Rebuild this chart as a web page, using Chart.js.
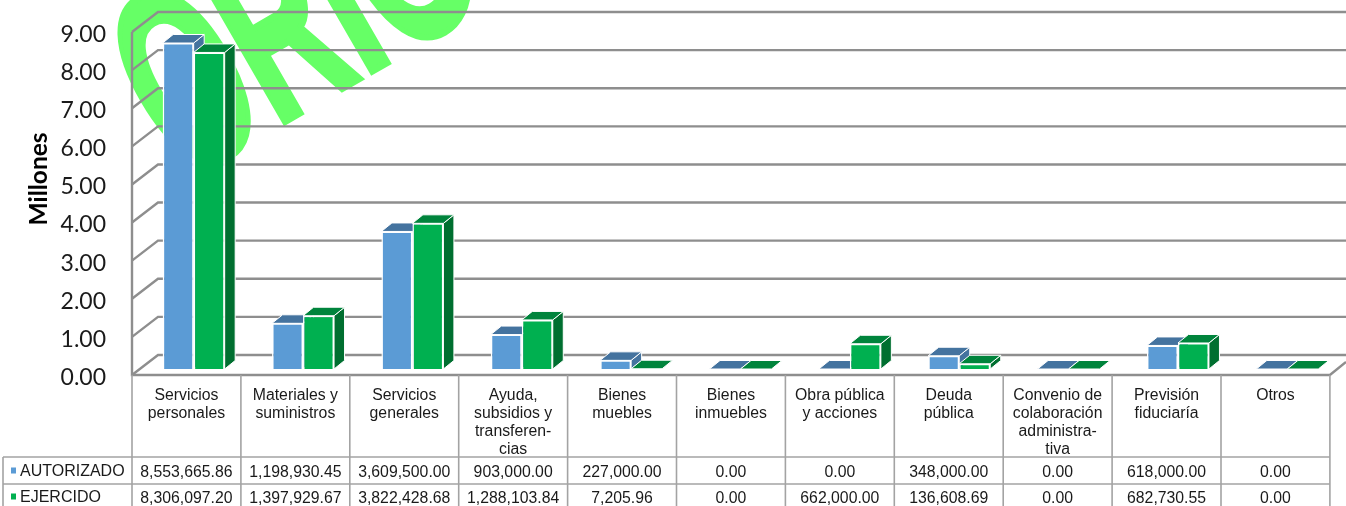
<!DOCTYPE html>
<html>
<head>
<meta charset="utf-8">
<style>
  html, body { margin: 0; padding: 0; background: #fff; }
  canvas { display: block; }
</style>
<script src="https://cdn.jsdelivr.net/npm/chart.js@4"></script>
</head>
<body>
<canvas id="mycanvas" width="1346" height="506"></canvas>
<script>
var categories = [
  ['Servicios', 'personales'],
  ['Materiales y', 'suministros'],
  ['Servicios', 'generales'],
  ['Ayuda,', 'subsidios y', 'transferen-', 'cias'],
  ['Bienes', 'muebles'],
  ['Bienes', 'inmuebles'],
  ['Obra pública', 'y acciones'],
  ['Deuda', 'pública'],
  ['Convenio de', 'colaboración', 'administra-', 'tiva'],
  ['Previsión', 'fiduciaría'],
  ['Otros']
];
var autorizado = [8553665.86, 1198930.45, 3609500.00, 903000.00, 227000.00, 0, 0, 348000.00, 0, 618000.00, 0];
var ejercido   = [8306097.20, 1397929.67, 3822428.68, 1288103.84, 7205.96, 0, 662000.00, 136608.69, 0, 682730.55, 0];
var seriesNames = ['AUTORIZADO', 'EJERCIDO'];
var axisTitle = 'Millones';
var watermark = 'ORIG'; // the rest of the word is cut off at the top

var front = ['#5B9BD5', '#00B050'];
var top3d = ['#44739F', '#00843C'];
var side3d = ['#44739F', '#006F30'];
var gridColor = '#8e8e8e';
var tableColor = '#a3a3a3';
var textColor = '#1a1a1a';
var textFont = '"Liberation Sans", Arial, sans-serif';

// data table under the plot, it does not line up exactly with the bars in the original
var tableLeft = 132, colW = 108.9;

function money(v) {
  return v.toLocaleString('en-US', { minimumFractionDigits: 2, maximumFractionDigits: 2 });
}

// walls, watermark and the sides of the bars, bars themselves come from chart.js
var walls = {
  id: 'walls',
  beforeDraw: function(chart) {
    var ctx = chart.ctx;
    ctx.save();
    ctx.fillStyle = '#fff';
    ctx.fillRect(0, 0, chart.width, chart.height);
    ctx.translate(182, 181);
    ctx.rotate(-30 * Math.PI / 180);
    ctx.scale(0.54, 1);
    ctx.fillStyle = '#66FF66';
    ctx.strokeStyle = '#66FF66';
    ctx.lineWidth = 7;
    ctx.font = 'bold 258px ' + textFont;
    ctx.textBaseline = 'alphabetic';
    ctx.fillText(watermark, 0, 0);
    ctx.strokeText(watermark, 0, 0);
    ctx.restore();
  },
  beforeDatasetsDraw: function(chart) {
    var ctx = chart.ctx, y = chart.scales.y;
    var fx = tableLeft, bx = tableLeft + 26, tableRight = tableLeft + colW * categories.length;
    ctx.save();
    ctx.strokeStyle = gridColor;
    ctx.lineWidth = 2.4;
    y.ticks.forEach(function(t) {
      var py = y.getPixelForValue(t.value);
      ctx.beginPath();
      ctx.moveTo(fx, py + 6);
      ctx.lineTo(bx, py - 14);
      ctx.lineTo(chart.width, py - 14);
      ctx.stroke();
    });
    var y0 = y.getPixelForValue(0), y9 = y.getPixelForValue(9000000);
    ctx.beginPath();
    ctx.moveTo(fx, y9 + 6);
    ctx.lineTo(fx, y0 + 6);
    ctx.lineTo(tableRight, y0 + 6);
    ctx.lineTo(chart.width, y0 - 7);
    ctx.stroke();

    // top and side faces
    ctx.strokeStyle = '#fff';
    ctx.lineWidth = 1;
    ctx.lineJoin = 'round';
    [0, 1].forEach(function(ds) {
      chart.getDatasetMeta(ds).data.forEach(function(bar) {
        var l = bar.x - bar.width / 2, r = bar.x + bar.width / 2;
        ctx.fillStyle = side3d[ds];
        ctx.beginPath();
        ctx.moveTo(r, bar.y);
        ctx.lineTo(r + 10.5, bar.y - 8.5);
        ctx.lineTo(r + 10.5, bar.base - 8.5);
        ctx.lineTo(r, bar.base);
        ctx.closePath();
        ctx.fill();
        ctx.stroke();
        ctx.fillStyle = top3d[ds];
        ctx.beginPath();
        ctx.moveTo(l, bar.y);
        ctx.lineTo(l + 10.5, bar.y - 8.5);
        ctx.lineTo(r + 10.5, bar.y - 8.5);
        ctx.lineTo(r, bar.y);
        ctx.closePath();
        ctx.fill();
        ctx.stroke();
      });
    });
    ctx.restore();
  },
  afterDraw: function(chart) {
    var ctx = chart.ctx;
    var tableTop = 375, row1 = 457, row2 = 484, tableBottom = 506;
    var tableRight = tableLeft + colW * categories.length;
    ctx.save();
    ctx.strokeStyle = tableColor;
    ctx.lineWidth = 1.6;
    for (var i = 0; i <= categories.length; i++) {
      var cx = tableLeft + i * colW;
      ctx.beginPath();
      ctx.moveTo(cx, tableTop);
      ctx.lineTo(cx, tableBottom);
      ctx.stroke();
    }
    [row1, row2].forEach(function(ry) {
      ctx.beginPath();
      ctx.moveTo(3, ry);
      ctx.lineTo(tableRight, ry);
      ctx.stroke();
    });
    ctx.beginPath();
    ctx.moveTo(3, row1);
    ctx.lineTo(3, tableBottom);
    ctx.stroke();

    ctx.fillStyle = textColor;
    ctx.font = '15.8px ' + textFont;
    ctx.textBaseline = 'middle';
    ctx.textAlign = 'center';
    categories.forEach(function(lines, i) {
      lines.forEach(function(line, n) {
        ctx.fillText(line, tableLeft + (i + 0.5) * colW, 396 + n * 18);
      });
    });
    [autorizado, ejercido].forEach(function(vals, ds) {
      var ty = ds === 0 ? 472.5 : 498.5;
      vals.forEach(function(v, i) {
        ctx.fillText(money(v), tableLeft + (i + 0.5) * colW, ty);
      });
      ctx.textAlign = 'left';
      ctx.font = '16px ' + textFont;
      ctx.fillText(seriesNames[ds], 20, ty - 1);
      ctx.font = '15.8px ' + textFont;
      ctx.fillStyle = front[ds];
      ctx.fillRect(11, ty - 5, 5, 6);
      ctx.fillStyle = textColor;
      ctx.textAlign = 'center';
    });

    // axis title
    ctx.translate(39, 179);
    ctx.rotate(-Math.PI / 2);
    ctx.fillStyle = '#000';
    ctx.font = 'bold 24.5px Lato, sans-serif';
    ctx.fillText(axisTitle, 0, 0);
    ctx.restore();
  }
};

new Chart(document.getElementById('mycanvas'), {
  type: 'bar',
  plugins: [walls],
  data: {
    labels: categories,
    datasets: [
      { label: seriesNames[0], data: autorizado, backgroundColor: front[0], borderColor: '#fff', borderWidth: 1.5 },
      { label: seriesNames[1], data: ejercido, backgroundColor: front[1], borderColor: '#fff', borderWidth: 1.5 }
    ]
  },
  options: {
    responsive: false,
    animation: false,
    events: [],
    layout: { padding: { top: 26, right: 4, left: 0, bottom: 0 } },
    plugins: { legend: { display: false }, tooltip: { enabled: false } },
    datasets: { bar: { categoryPercentage: 0.567, barPercentage: 1 } },
    scales: {
      x: {
        grid: { display: false },
        border: { display: false },
        afterFit: function(scale) { scale.height = 137; scale.paddingLeft = 0; scale.paddingRight = 0; },
        ticks: { display: false }
      },
      y: {
        min: 0,
        max: 9000000,
        grid: { display: false },
        border: { display: false },
        afterFit: function(scale) { scale.width = 139; scale.paddingTop = 0; scale.paddingBottom = 0; },
        ticks: {
          stepSize: 1000000,
          padding: 25,
          labelOffset: 8.5,
          color: textColor,
          font: { family: 'Lato, sans-serif', size: 23 },
          callback: function(v) { return (v / 1000000).toFixed(2); }
        }
      }
    }
  }
});
</script>
</body>
</html>
